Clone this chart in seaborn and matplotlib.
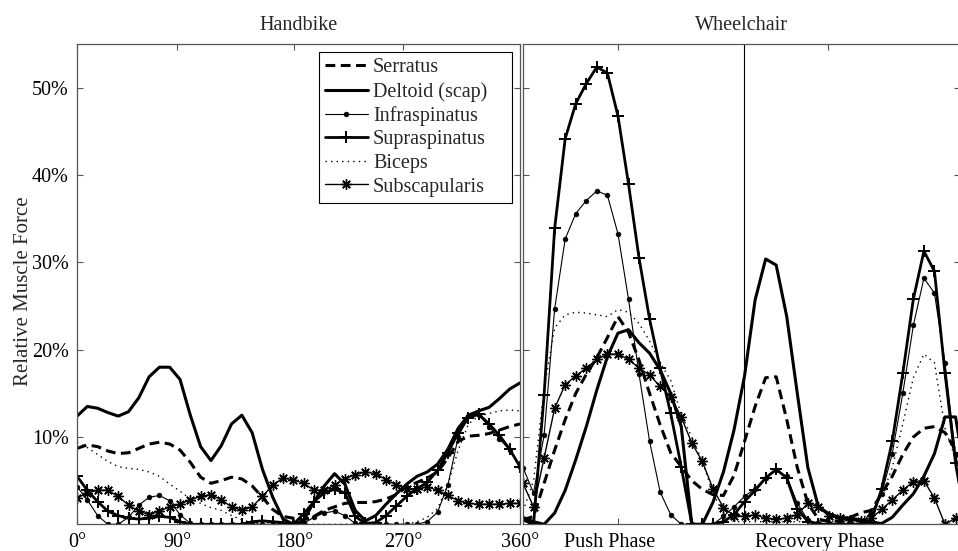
import numpy as np
import matplotlib
matplotlib.use("Agg")
import matplotlib.pyplot as plt
from matplotlib.transforms import ScaledTranslation
import seaborn as sns

# Handbike: 44 samples over one crank revolution (x in % of cycle)
hb_x = np.linspace(0, 100, 44)
hb_serratus = [8.7, 9.1, 8.9, 8.4, 8.1, 8.2, 8.7, 9.2, 9.4, 9.2,
               8.5, 7.1, 5.4, 4.7, 5.0, 5.4, 5.2, 4.4, 3.1, 1.7,
               0.9, 0.7, 0.5, 0.9, 1.6, 2.0, 2.4, 2.5, 2.5, 2.6,
               2.9, 3.4, 4.3, 4.8, 5.3, 6.0, 7.6, 9.5, 10.1, 10.2,
               10.4, 10.8, 11.2, 11.5]
hb_deltoid = [12.4, 13.5, 13.3, 12.8, 12.4, 12.9, 14.5, 16.9, 18.0, 18.0,
              16.6, 12.5, 8.9, 7.3, 9.0, 11.5, 12.5, 10.5, 6.3, 3.1,
              0.6, 0.0, 0.4, 2.6, 4.4, 5.8, 4.6, 1.6, 0.4, 1.0,
              2.3, 3.5, 4.6, 5.5, 6.0, 6.9, 8.6, 11.0, 12.5, 13.0,
              13.4, 14.4, 15.5, 16.2]
hb_infraspinatus = [4.3, 2.8, 1.0, 0.0, 0.0, 0.8, 2.2, 3.1, 3.3, 2.7,
                    1.1, 0.1, 0.0, 0.0, 0.0, 0.0, 0.0, 0.0, 0.0, 0.0,
                    0.0, 0.0, 0.1, 0.8, 1.3, 1.5, 1.0, 0.1, 0.0, 0.0,
                    0.0, 0.0, 0.0, 0.0, 0.3, 1.4, 4.5, 10.0, 12.4, 12.5,
                    11.2, 9.8, 8.5, 6.6]
hb_supraspinatus = [5.5, 3.9, 2.6, 1.5, 1.0, 0.7, 0.6, 0.7, 0.9, 0.8,
                    0.3, 0.0, 0.0, 0.0, 0.0, 0.0, 0.0, 0.3, 0.4, 0.3,
                    0.2, 0.0, 1.2, 2.6, 3.6, 4.0, 3.6, 0.9, 0.1, 0.2,
                    1.0, 2.1, 3.2, 4.1, 4.8, 6.2, 8.2, 10.5, 12.2, 12.6,
                    11.5, 10.2, 8.6, 6.6]
hb_biceps = [9.4, 8.8, 8.0, 7.2, 6.6, 6.4, 6.3, 6.0, 5.5, 4.6,
             3.8, 2.9, 2.4, 1.9, 1.6, 1.0, 0.5, 0.2, 0.0, 0.0,
             0.0, 0.0, 0.0, 0.0, 0.0, 0.0, 0.0, 0.0, 0.0, 0.0,
             0.0, 0.0, 0.0, 0.3, 0.8, 1.8, 4.5, 8.5, 11.5, 12.4,
             12.7, 13.0, 13.1, 13.0]
hb_subscapularis = [3.0, 3.6, 3.9, 3.9, 3.2, 2.2, 1.5, 1.1, 1.5, 2.0,
                    2.3, 2.8, 3.2, 3.4, 2.8, 2.0, 1.6, 2.0, 3.2, 4.5,
                    5.3, 5.1, 4.7, 3.9, 3.9, 4.5, 5.2, 5.7, 6.0, 5.8,
                    5.1, 4.5, 4.1, 4.0, 4.3, 3.9, 3.3, 2.7, 2.4, 2.3,
                    2.3, 2.3, 2.4, 2.4]
hb_tick_pos = [0, 22.6, 49.0, 73.6, 100]
hb_tick_labels = ["0°", "90°", "180°", "270°", "360°"]

# Wheelchair: sample index over push + recovery
wc_x = np.arange(43)
wc_serratus = [0.5, 0.9, 4.7, 8.5, 12.0, 15.0, 17.2, 19.1, 21.4, 23.8,
               22.0, 18.8, 15.0, 11.4, 8.2, 6.6, 5.0, 4.0, 3.4, 3.3,
               5.6, 9.5, 13.5, 16.8, 16.9, 12.0, 6.5, 2.4, 0.6, 0.3,
               0.4, 0.8, 1.3, 1.6, 3.5, 5.5, 8.0, 10.0, 11.0, 11.2,
               10.5, 8.5, 6.0]
wc_deltoid = [0.8, 0.3, 0.0, 1.3, 3.9, 7.4, 11.2, 15.4, 19.2, 21.9,
              22.3, 20.8, 19.6, 17.7, 15.0, 11.2, 0.0, 0.0, 2.5, 6.0,
              10.8, 17.0, 25.7, 30.4, 29.7, 23.8, 15.0, 6.5, 2.0, 1.2,
              0.8, 0.7, 0.5, 0.2, 0.1, 0.8, 2.2, 3.5, 5.5, 8.1,
              12.3, 12.3, 5.0]
wc_infraspinatus = [6.5, 3.6, 10.2, 24.7, 32.7, 35.6, 37.1, 38.2, 37.7, 33.3,
                    25.8, 17.2, 9.5, 3.7, 1.1, 0.0, 0.0, 0.0, 0.0, 0.9,
                    2.0, 3.2, 4.1, 5.3, 6.2, 5.5, 2.4, 0.5, 0.1, 0.1,
                    0.1, 0.1, 0.1, 1.3, 3.5, 8.1, 15.0, 22.8, 28.2, 26.5,
                    18.5, 8.0, 3.0]
wc_supraspinatus = [0.5, 0.0, 14.8, 33.9, 44.2, 48.2, 50.5, 52.4, 51.7, 46.8,
                    39.0, 30.5, 23.5, 17.9, 12.7, 6.6, 0.0, 0.0, 0.0, 0.3,
                    1.1, 2.6, 3.9, 5.3, 6.3, 5.3, 1.8, 0.3, 0.0, 0.0,
                    0.0, 0.0, 0.0, 0.3, 4.1, 9.5, 17.3, 25.8, 31.3, 29.0,
                    17.3, 7.0, 0.0]
wc_biceps = [1.5, 5.0, 15.5, 22.5, 24.0, 24.3, 24.2, 24.0, 23.8, 24.6,
             24.3, 23.0, 21.0, 18.5, 16.5, 12.6, 10.0, 7.2, 3.6, 1.2,
             0.3, 0.3, 0.3, 0.3, 0.3, 0.3, 0.3, 0.3, 0.3, 0.3,
             0.3, 0.3, 0.5, 1.5, 3.2, 6.5, 11.5, 16.8, 19.5, 18.5,
             11.0, 7.5, 4.0]
wc_subscapularis = [4.7, 2.0, 7.6, 13.3, 16.0, 17.0, 17.9, 18.9, 19.5, 19.5,
                    18.9, 17.9, 17.1, 15.8, 14.6, 12.3, 9.3, 7.2, 4.1, 1.9,
                    1.0, 0.9, 1.1, 0.7, 0.6, 0.7, 1.1, 2.4, 2.0, 0.9,
                    0.7, 0.5, 0.4, 0.7, 1.7, 2.8, 3.9, 4.9, 5.0, 3.0,
                    0.0, 0.7, 1.0]
wc_phase_split = 20.95
wc_tick_pos = [9.0, 28.9]
wc_tick_labels = ["Push Phase", "Recovery Phase"]

muscles = ["Serratus", "Deltoid (scap)", "Infraspinatus",
           "Supraspinatus", "Biceps", "Subscapularis"]
handbike = [hb_serratus, hb_deltoid, hb_infraspinatus,
            hb_supraspinatus, hb_biceps, hb_subscapularis]
wheelchair = [wc_serratus, wc_deltoid, wc_infraspinatus,
              wc_supraspinatus, wc_biceps, wc_subscapularis]

# matlab-ish line styles, all black
styles = [
    dict(linewidth=2.2, linestyle=(0, (3.2, 1.8))),
    dict(linewidth=2.2, linestyle="-"),
    dict(linewidth=0.8, linestyle="-", marker="o", markersize=3.4, markeredgewidth=0.5),
    dict(linewidth=2.0, linestyle="-", marker="+", markersize=8, markeredgewidth=1.4),
    dict(linewidth=1.0, linestyle=(0, (1, 3))),
    dict(linewidth=1.0, linestyle="-", marker=(8, 2, 0), markersize=7.5, markeredgewidth=1.0),
]

sns.set_theme(style="white")
plt.rcParams["font.family"] = ["Liberation Serif", "DejaVu Serif"]
plt.rcParams["font.size"] = 14.5

fig = plt.figure(figsize=(9.58, 5.51), dpi=100)
W, H = 958, 551
ax1 = fig.add_axes([77 / W, 26.7 / H, 443 / W, 480 / H])
ax2 = fig.add_axes([523 / W, 26.7 / H, 437 / W, 480 / H])

for name, vals, st in zip(muscles, handbike, styles):
    sns.lineplot(x=hb_x, y=vals, ax=ax1, color="black", label=name, legend=False,
                 markeredgecolor="black", markerfacecolor="black", **st)
for name, vals, st in zip(muscles, wheelchair, styles):
    sns.lineplot(x=wc_x, y=vals, ax=ax2, color="black", legend=False,
                 markeredgecolor="black", markerfacecolor="black", **st)

ax2.axvline(wc_phase_split, color="black", linewidth=0.8)

for ax in (ax1, ax2):
    ax.set_ylim(0, 55)
    ax.set_yticks([10, 20, 30, 40, 50])
    ax.tick_params(direction="in", length=4, width=0.8, color="#555555",
                   top=True, right=True, bottom=True, left=True,
                   labelsize=14.5, pad=6, labelcolor="black")
    for sp in ax.spines.values():
        sp.set_color("#555555")
        sp.set_linewidth(0.9)
    ax.set_xlabel("")

ax1.set_xlim(0, 100)
ax1.set_xticks(hb_tick_pos)
ax1.set_xticklabels(hb_tick_labels)
ax1.set_yticklabels([f"{v}%" for v in [10, 20, 30, 40, 50]])
ax1.set_ylabel("Relative Muscle Force", fontsize=15)
ax1.yaxis.set_label_coords(-0.099, 0.486)
ax1.set_title("Handbike", fontsize=14.5, pad=10)

ax2.set_xlim(0, 437 / 10.55)
ax2.set_xticks(wc_tick_pos)
ax2.set_xticklabels(wc_tick_labels)
ax2.set_yticklabels([])
ax2.set_ylabel("")
ax2.set_title("Wheelchair", fontsize=14.5, pad=10)
shift = ScaledTranslation(-8.5 / 100, 0, fig.dpi_scale_trans)
for lab in ax2.get_xticklabels():
    lab.set_transform(lab.get_transform() + shift)

# legend box stretched to the same width as the original (extra room on the right)
leg = ax1.legend(loc="upper left", bbox_to_anchor=(0.5456, 0.5, 0.4357, 0.4833),
                 mode="expand", borderaxespad=0, fancybox=False, framealpha=1,
                 edgecolor="black", fontsize=14.5, handlelength=2.15,
                 handletextpad=0.25, labelspacing=0.22, borderpad=0.3)
leg.get_frame().set_linewidth(0.8)

fig.savefig("out.png", dpi=100)
